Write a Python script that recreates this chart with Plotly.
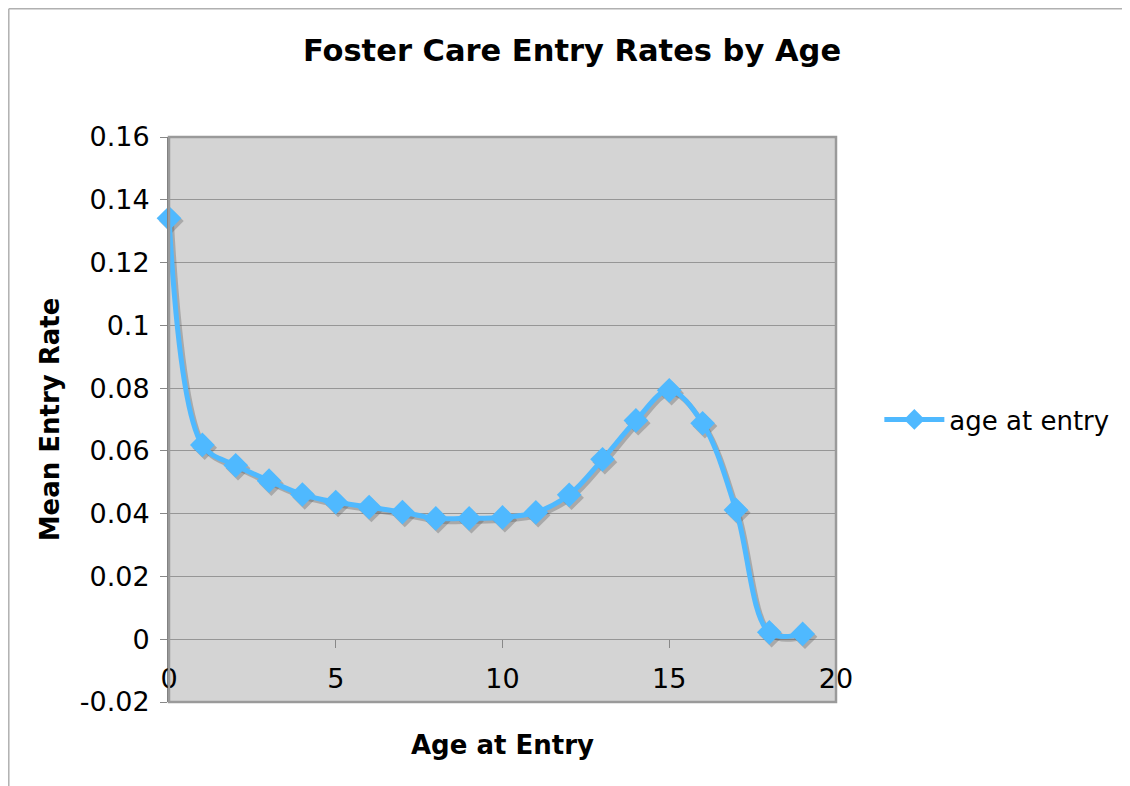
import plotly.graph_objects as go

ages = list(range(20))
rates = [0.1341, 0.0619, 0.0554, 0.0505, 0.0461, 0.0437, 0.0421, 0.0405,
         0.0385, 0.0385, 0.0388, 0.0404, 0.0460, 0.0573, 0.0697, 0.0793,
         0.0688, 0.0412, 0.0022, 0.0017]
y_tickvals = [-0.02, 0, 0.02, 0.04, 0.06, 0.08, 0.1, 0.12, 0.14, 0.16]
y_ticktext = ["-0.02", "0", "0.02", "0.04", "0.06", "0.08", "0.1", "0.12", "0.14", "0.16"]
x_tickvals = [0, 5, 10, 15, 20]

FONT = "DejaVu Sans"
BLUE = "#4FB9FF"

fig = go.Figure()

# drop shadow (derived from the data with a small offset)
fig.add_trace(go.Scatter(
    x=[a + 0.07 for a in ages], y=[r - 0.0009 for r in rates],
    mode="lines+markers", line=dict(color="rgba(90,90,90,0.35)", width=5, shape="spline", smoothing=1),
    marker=dict(symbol="diamond", size=19, color="rgba(90,90,90,0.35)"),
    showlegend=False, hoverinfo="skip", cliponaxis=False))

fig.add_trace(go.Scatter(
    x=ages, y=rates, name="age at entry",
    mode="lines+markers", line=dict(color=BLUE, width=5, shape="spline", smoothing=1),
    marker=dict(symbol="diamond", size=19, color=BLUE),
    cliponaxis=False))

# page body has an 8px margin, so the figure starts at (8, 8)
W, H = 1122, 778
L, T = 161, 129
pw, ph = 667, 565
R, B = W - L - pw, H - T - ph


def px_x(fx):
    return (fx - L) / pw


def px_y(fy):
    return (T + ph - fy) / ph


fig.update_layout(
    width=W, height=H,
    margin=dict(l=L, r=R, t=T, b=B),
    paper_bgcolor="white", plot_bgcolor="#D4D4D4",
    font=dict(family=FONT, color="black", size=27),
    title=dict(text="<b>Foster Care Entry Rates by Age</b>", x=(572 - 8) / W, xref="container",
               xanchor="center", y=1 - (50 - 8) / H, yanchor="middle", font=dict(size=30.5, family=FONT)),
    xaxis=dict(range=[0, 20], tickvals=x_tickvals, anchor="free", position=0.02 / 0.18,
               showgrid=False, zeroline=False, showline=False,
               ticks="outside", ticklen=8, tickcolor="#888", tickwidth=1,
               ticklabelstandoff=7,
               tickfont=dict(size=27), fixedrange=True),
    yaxis=dict(range=[-0.02, 0.16], tickvals=y_tickvals, ticktext=y_ticktext,
               showgrid=True, gridcolor="#969696", gridwidth=1, zeroline=False,
               showline=True, linecolor="#7a7a7a", linewidth=2,
               ticks="outside", ticklen=7, tickcolor="#888", tickfont=dict(size=27),
               ticklabelstandoff=5,
               title=dict(text="<b>Mean Entry Rate</b>", font=dict(size=26), standoff=13)),
    legend=dict(x=1.065, xanchor="left", y=0.5, yanchor="middle", font=dict(size=26),
                bgcolor="rgba(0,0,0,0)", itemwidth=60),
    showlegend=True,
)

# frame around plot area
fig.add_shape(type="rect", xref="paper", yref="paper", x0=0, x1=1, y0=0, y1=1,
              line=dict(color="#9a9a9a", width=2.5), layer="above")
# outer chart border (left and top)
fig.add_shape(type="line", xref="paper", yref="paper",
              x0=px_x(0.8), x1=px_x(0.8), y0=px_y(H + 10), y1=px_y(0.8),
              line=dict(color="#b0b0b0", width=1.5))
fig.add_shape(type="line", xref="paper", yref="paper",
              x0=px_x(0.8), x1=px_x(W + 10), y0=px_y(0.8), y1=px_y(0.8),
              line=dict(color="#b0b0b0", width=1.5))

fig.add_annotation(text="<b>Age at Entry</b>", xref="paper", yref="paper",
                   x=0.5, y=px_y(745 - 8), showarrow=False,
                   xanchor="center", yanchor="middle", font=dict(size=26, family=FONT))

fig.write_html("out.html")
